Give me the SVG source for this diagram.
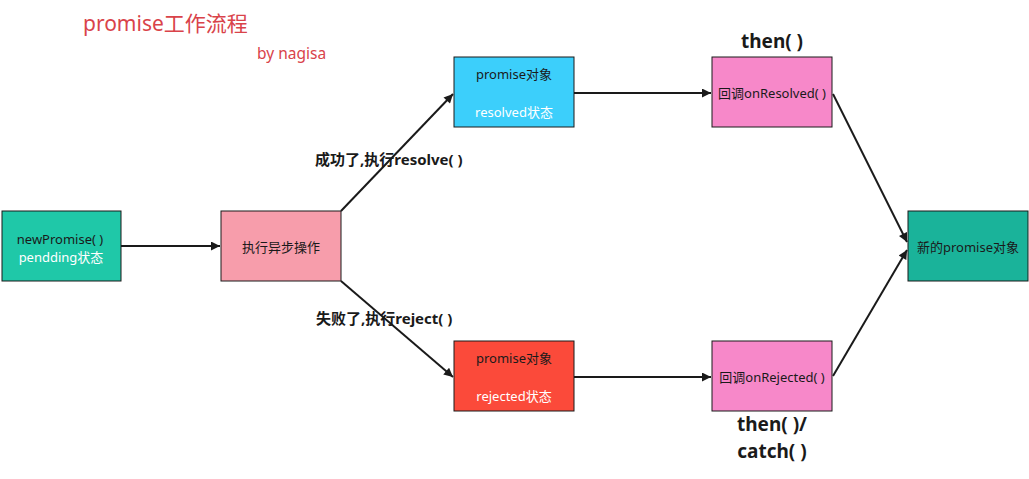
<svg xmlns="http://www.w3.org/2000/svg" width="1029" height="479" viewBox="0 0 1029 479">
<style>
text{font-family:"Noto Sans","Noto Sans CJK SC",sans-serif}
.n{stroke:#1a1a1a;stroke-width:1}
.t{font-size:13px;text-anchor:middle;fill:#1a1a1a}
.w{fill:#ffffff}
.b{font-weight:bold;fill:#1a1a1a}
.c{stroke:#1a1a1a;stroke-width:2;fill:none;marker-end:url(#ah)}
</style>
<defs>
<marker id="ah" viewBox="0 0 10 10" refX="10" refY="5" markerWidth="10" markerHeight="9" markerUnits="userSpaceOnUse" orient="auto">
<path d="M0,0 L10,5 L0,10 z" fill="#1a1a1a"/>
</marker>
</defs>
<rect width="1029" height="479" fill="#ffffff"/>
<text x="83" y="31" font-size="21" fill="#d9434a">promise工作流程</text>
<text x="257" y="59" font-size="15.5" fill="#d9434a">by nagisa</text>
<g id="connectors">
<line class="c" x1="121" y1="246" x2="220" y2="246"/>
<line class="c" x1="341" y1="211" x2="453" y2="94"/>
<line class="c" x1="341" y1="281" x2="453" y2="377"/>
<line class="c" x1="574" y1="93" x2="711" y2="93"/>
<line class="c" x1="574" y1="377" x2="711" y2="377"/>
<line class="c" x1="833" y1="94" x2="907" y2="242"/>
<line class="c" x1="833" y1="376" x2="907" y2="250"/>
</g>
<g id="labels">
<text class="b" x="315" y="165" font-size="15">成功了,执行resolve( )</text>
<text class="b" x="316" y="324" font-size="15">失败了,执行reject( )</text>
<text class="b" x="772" y="48" font-size="19" text-anchor="middle">then( )</text>
<text class="b" x="772" y="431" font-size="19" text-anchor="middle">then( )/</text>
<text class="b" x="772" y="458" font-size="19" text-anchor="middle">catch( )</text>
</g>
<g id="newPromise">
<rect class="n" x="2" y="211" width="119" height="70" fill="#1fc8a8"/>
<text class="t" x="60" y="244">newPromise( )</text>
<text class="t w" x="61" y="262">pendding状态</text>
</g>
<g id="async">
<rect class="n" x="221" y="211" width="120" height="70" fill="#f79dab"/>
<text class="t" x="281" y="252">执行异步操作</text>
</g>
<g id="resolved">
<rect class="n" x="454" y="57" width="120" height="70" fill="#3ccffb"/>
<text class="t" x="514" y="79">promise对象</text>
<text class="t w" x="514" y="117">resolved状态</text>
</g>
<g id="rejected">
<rect class="n" x="454" y="341" width="120" height="70" fill="#fb4a3a"/>
<text class="t" x="514" y="363">promise对象</text>
<text class="t w" x="514" y="401">rejected状态</text>
</g>
<g id="onResolved">
<rect class="n" x="712" y="57" width="120" height="70" fill="#f788c9"/>
<text class="t" x="772" y="98">回调onResolved( )</text>
</g>
<g id="onRejected">
<rect class="n" x="712" y="341" width="120" height="70" fill="#f788c9"/>
<text class="t" x="772" y="382">回调onRejected( )</text>
</g>
<g id="newPromiseObj">
<rect class="n" x="908" y="211" width="120" height="70" fill="#1ab39a"/>
<text class="t" x="968" y="252">新的promise对象</text>
</g>
</svg>
